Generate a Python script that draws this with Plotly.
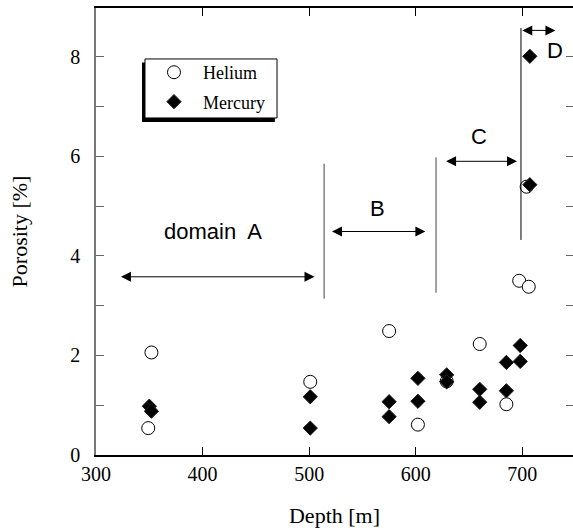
import plotly.graph_objects as go

# ---- data ----
helium_depth = [349, 352, 501, 575, 602, 629, 660, 685, 697, 706, 704]
helium_por = [0.54, 2.06, 1.47, 2.49, 0.61, 1.48, 2.23, 1.02, 3.50, 3.38, 5.39]
mercury_depth = [350, 352, 501, 501, 575, 575, 602, 602, 629, 629, 660, 660, 685, 685, 698, 698, 707, 707]
mercury_por = [0.98, 0.88, 1.17, 0.54, 1.07, 0.77, 1.54, 1.08, 1.61, 1.47, 1.32, 1.06, 1.86, 1.29, 2.20, 1.88, 5.43, 8.01]

x_ticks = [300, 400, 500, 600, 700]
y_ticks = [0, 1, 2, 3, 4, 5, 6, 7, 8]
y_ticktext = ["0", "", "2", "", "4", "", "6", "", "8"]

# domain boundaries (depth, porosity bottom, porosity top)
boundary_depth = [514, 619, 698.7]
boundary_bottom = [3.14, 3.26, 4.32]
boundary_top = [5.85, 5.98, 8.58]

domain_labels = ["domain  A", "B", "C", "D"]
domain_label_x = [410, 564, 659, 731]
domain_label_y = [4.49, 4.96, 6.40, 8.12]
arrow_start = [322, 520, 627, 698.5]
arrow_end = [505, 609, 695, 731]
arrow_y = [3.58, 4.49, 5.90, 8.53]

serif = "Liberation Serif"
sans = "Liberation Sans"

fig = go.Figure()
fig.add_trace(go.Scatter(
    x=helium_depth, y=helium_por, mode="markers", name="Helium", legendgroup="he",
    marker=dict(symbol="circle", size=13, color="white", line=dict(color="black", width=1)),
))
fig.add_trace(go.Scatter(
    x=mercury_depth, y=mercury_por, mode="markers", name="Mercury", legendgroup="hg",
    marker=dict(symbol="diamond", size=11, color="black", line=dict(color="#222", width=1)),
))
# right-side ticks
fig.add_trace(go.Scatter(x=[None], y=[None], yaxis="y2", showlegend=False))

shapes = []
for i, d in enumerate(boundary_depth):
    shapes.append(dict(type="line", xref="x", yref="y", x0=d, x1=d,
                       y0=boundary_bottom[i], y1=boundary_top[i],
                       line=dict(color="#444" if i < 2 else "black", width=1)))
# legend frame with drop shadow
shapes.append(dict(type="rect", xref="paper", yref="paper",
                   x0=0.0964, x1=0.375, y0=0.745, y1=0.878,
                   fillcolor="black", line=dict(width=0), layer="above"))
shapes.append(dict(type="rect", xref="paper", yref="paper",
                   x0=0.1027, x1=0.3795, y0=0.754, y1=0.886,
                   fillcolor="white", line=dict(color="black", width=1), layer="above"))

annotations = []
for i in range(4):
    annotations.append(dict(x=arrow_end[i], y=arrow_y[i], ax=arrow_start[i], ay=arrow_y[i],
                            xref="x", yref="y", axref="x", ayref="y", text="",
                            showarrow=True, arrowhead=2, arrowside="end+start",
                            arrowsize=2, arrowwidth=1, arrowcolor="black",
                            standoff=0, startstandoff=0))
    annotations.append(dict(x=domain_label_x[i], y=domain_label_y[i], xref="x", yref="y",
                            text=domain_labels[i], showarrow=False,
                            font=dict(family=sans, size=22, color="black")))

fig.update_layout(
    width=573, height=532,
    margin=dict(l=96, r=0, t=8, b=77),
    plot_bgcolor="white", paper_bgcolor="white",
    showlegend=True,
    legend=dict(x=0.1027, y=0.897, xanchor="left", yanchor="top",
                bgcolor="rgba(0,0,0,0)", borderwidth=0,
                font=dict(family=serif, size=18, color="black"),
                itemwidth=48, tracegroupgap=3),
    xaxis=dict(range=[300, 747.5], tickvals=x_ticks, ticks="inside", ticklen=8,
               tickcolor="black", tickwidth=1, showline=True, linecolor="black",
               linewidth=1.5, mirror="ticks", showgrid=False, zeroline=False,
               tickfont=dict(family=serif, size=20, color="black"),
               title=dict(text="Depth [m]", font=dict(family=serif, size=22, color="black"),
                          standoff=24)),
    yaxis=dict(range=[0, 8.98], tickvals=y_ticks, ticktext=y_ticktext, ticks="inside",
               ticklen=8, tickcolor="#666", tickwidth=1, showline=True, linecolor="#777",
               linewidth=1.5, mirror=False, showgrid=False, zeroline=False,
               ticklabelstandoff=10,
               tickfont=dict(family=serif, size=20, color="black"),
               title=dict(text="Porosity [%]", font=dict(family=serif, size=22, color="black"),
                          standoff=37)),
    yaxis2=dict(range=[0, 8.98], overlaying="y", side="right", tickvals=y_ticks,
                showticklabels=False, ticks="inside", ticklen=7, tickcolor="#666",
                showline=False, showgrid=False, zeroline=False),
    shapes=shapes,
    annotations=annotations,
)

fig.write_html("out.html", post_script="document.body.style.margin='0';",
               config={"displayModeBar": False})
